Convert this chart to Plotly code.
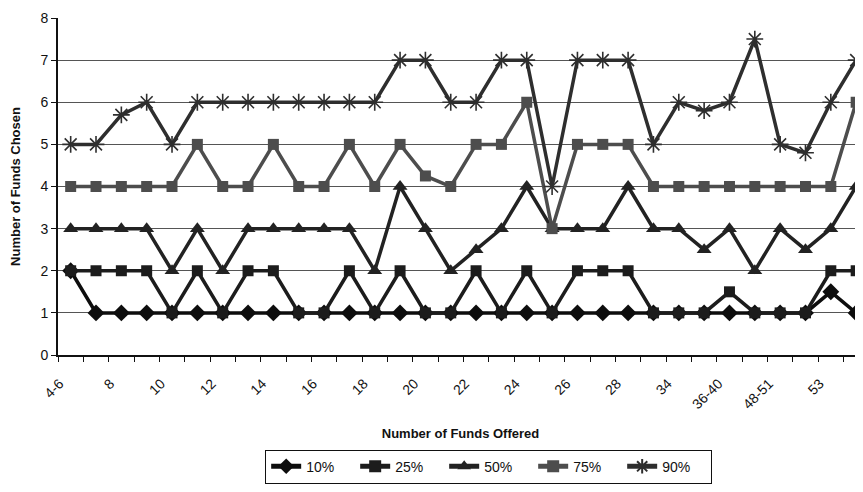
import plotly.graph_objects as go

categories = ["4-6", "7", "8", "9", "10", "11", "12", "13", "14", "15", "16", "17",
              "18", "19", "20", "21", "22", "23", "24", "25", "26", "27", "28", "30",
              "34", "35", "36-40", "41-47", "48-51", "52", "53", "54+"]
shown_labels = ["4-6", "8", "10", "12", "14", "16", "18", "20", "22", "24", "26", "28",
                "34", "36-40", "48-51", "53"]

p10 = [2, 1, 1, 1, 1, 1, 1, 1, 1, 1, 1, 1, 1, 1, 1, 1, 1, 1, 1, 1, 1, 1, 1, 1,
       1, 1, 1, 1, 1, 1, 1.5, 1]
p25 = [2, 2, 2, 2, 1, 2, 1, 2, 2, 1, 1, 2, 1, 2, 1, 1, 2, 1, 2, 1, 2, 2, 2, 1,
       1, 1, 1.5, 1, 1, 1, 2, 2]
p50 = [3, 3, 3, 3, 2, 3, 2, 3, 3, 3, 3, 3, 2, 4, 3, 2, 2.5, 3, 4, 3, 3, 3, 4, 3,
       3, 2.5, 3, 2, 3, 2.5, 3, 4]
p75 = [4, 4, 4, 4, 4, 5, 4, 4, 5, 4, 4, 5, 4, 5, 4.25, 4, 5, 5, 6, 3, 5, 5, 5, 4,
       4, 4, 4, 4, 4, 4, 4, 6]
p90 = [5, 5, 5.7, 6, 5, 6, 6, 6, 6, 6, 6, 6, 6, 7, 7, 6, 6, 7, 7, 4, 7, 7, 7, 5,
       6, 5.8, 6, 7.5, 5, 4.8, 6, 7]

series = [
    ("10%", p10, "#0d0d0d", "diamond", 13, 0),
    ("25%", p25, "#1c1c1c", "square", 11, 0),
    ("50%", p50, "#222222", "triangle-up", 13, 0),
    ("75%", p75, "#4d4d4d", "square", 11, 0),
    ("90%", p90, "#2e2e2e", "asterisk-open", 14, 1.6),
]

idx = list(range(len(categories)))
label_pos = [categories.index(c) for c in shown_labels]

fig = go.Figure()
for name, vals, col, sym, size, lw in series:
    marker = dict(symbol=sym, size=size, color=col)
    if lw:
        marker["line"] = dict(color=col, width=lw)
    fig.add_trace(go.Scatter(
        x=idx, y=vals, name=name, mode="lines+markers",
        line=dict(color=col, width=3.5), marker=marker, cliponaxis=False,
    ))

# the page body adds an 8px offset, so the figure is 8px smaller on each axis
fig.update_layout(
    width=855, height=484,
    margin=dict(l=50, r=0, t=10, b=137, autoexpand=False),
    paper_bgcolor="white", plot_bgcolor="white",
    font=dict(family="Liberation Sans, Arial, sans-serif", size=14, color="#111"),
    showlegend=True,
    legend=dict(orientation="h", x=0.535, xanchor="center", y=-0.281, yanchor="top",
                bordercolor="#111", borderwidth=1, font=dict(size=14),
                entrywidth=44, entrywidthmode="pixels", tracegroupgap=0,
                itemwidth=30, itemsizing="constant"),
)
fig.update_xaxes(
    range=[-0.5, 31.27], tickmode="array", tickvals=label_pos, ticktext=shown_labels,
    tickangle=-45, ticks="", showgrid=False, zeroline=False, automargin=False,
    showline=True, linecolor="#111", linewidth=2,
    tickfont=dict(size=14), ticklabelshift=-11, ticklabelstandoff=13,
    minor=dict(tickmode="array", tickvals=[i - 0.5 for i in idx] + [31.5],
               ticks="outside", ticklen=5, tickcolor="#111", tickwidth=1, showgrid=False),
    title=dict(text="<b>Number of Funds Offered</b>", font=dict(size=13), standoff=18),
)
fig.update_yaxes(
    range=[0, 8], dtick=1, tick0=0, ticks="outside", ticklen=5, tickcolor="#111",
    showgrid=True, gridcolor="#555", gridwidth=1, zeroline=False, automargin=False,
    showline=True, linecolor="#111", linewidth=2,
    tickfont=dict(size=14),
    title=dict(text="<b>Number of Funds Chosen</b>", font=dict(size=13), standoff=19),
)

fig.write_html("out.html")
